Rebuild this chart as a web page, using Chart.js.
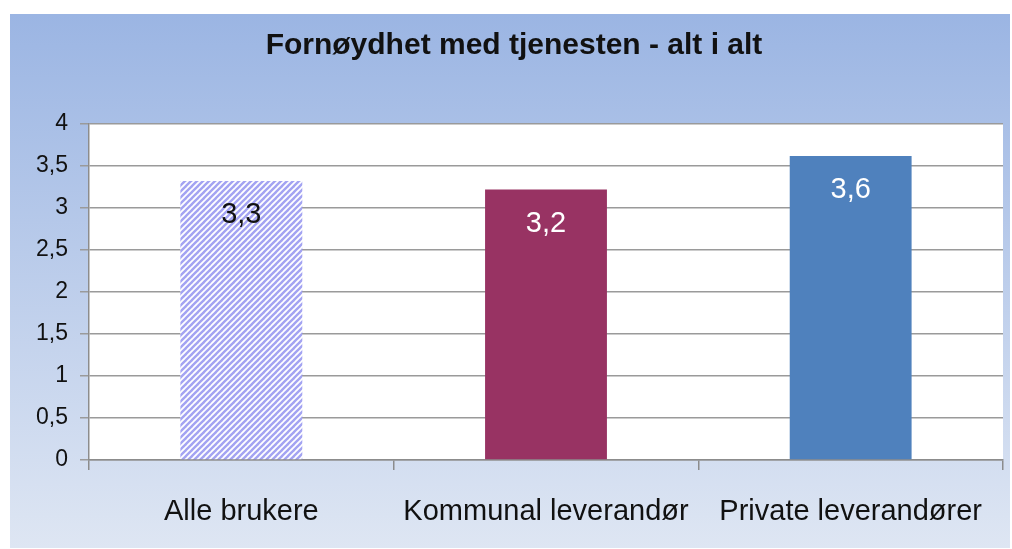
<!DOCTYPE html>
<html>
<head>
<meta charset="utf-8">
<script src="https://cdn.jsdelivr.net/npm/chart.js@4"></script>
<style>
  html, body { margin: 0; padding: 0; background: #fff; }
  #wrap { position: absolute; left: 0; top: 0; width: 1012px; height: 549px; }
</style>
</head>
<body>
<div id="wrap"><canvas id="grafico" width="1012" height="549"></canvas></div>
<script>
// Datos del gráfico
const tittel = "Fornøydhet med tjenesten - alt i alt";
const kategorier = ["Alle brukere", "Kommunal leverandør", "Private leverandører"];
const verdier = [3.32, 3.22, 3.62];
const etiketter = ["3,3", "3,2", "3,6"];
const yTicks = [0, 0.5, 1, 1.5, 2, 2.5, 3, 3.5, 4];

const fontFamily = "'Liberation Sans', Arial, sans-serif";

// Mønster med skrå striper for første søyle
function lagStriper() {
  const n = 6;
  const c = document.createElement("canvas");
  c.width = n; c.height = n;
  const g = c.getContext("2d");
  g.fillStyle = "#ffffff";
  g.fillRect(0, 0, n, n);
  g.strokeStyle = "#a3a3f2";
  g.lineWidth = 2.4;
  for (let k = -1; k <= 1; k++) {
    g.beginPath();
    g.moveTo(-1 + k * n, n + 1);
    g.lineTo(n + 1 + k * n, -1);
    g.stroke();
  }
  return g.createPattern(c, "repeat");
}

const ctx = document.getElementById("grafico").getContext("2d");
const farger = [lagStriper(), "#983363", "#4f81bd"];

// Bakgrunn, hvit plottflate og tittel
const bakgrunn = {
  id: "bakgrunn",
  beforeDraw(chart) {
    const c = chart.ctx;
    const grad = c.createLinearGradient(0, 14, 0, 548);
    grad.addColorStop(0, "#9bb5e3");
    grad.addColorStop(1, "#dee6f3");
    c.save();
    c.fillStyle = grad;
    c.fillRect(10, 14, 1000, 534);
    const a = chart.chartArea;
    c.fillStyle = "#ffffff";
    c.fillRect(a.left, a.top, a.right - a.left, a.bottom - a.top);
    c.fillStyle = "#111111";
    c.font = "bold 30px " + fontFamily;
    c.textAlign = "center";
    c.textBaseline = "middle";
    c.fillText(tittel, 514, 46);
    c.restore();
  }
};

// Verdietiketter inne i søylene
const verdiEtiketter = {
  id: "verdiEtiketter",
  afterDatasetsDraw(chart) {
    const c = chart.ctx;
    const meta = chart.getDatasetMeta(0);
    c.save();
    c.font = "29px " + fontFamily;
    c.textAlign = "center";
    c.textBaseline = "middle";
    meta.data.forEach((bar, i) => {
      c.fillStyle = i === 0 ? "#111111" : "#ffffff";
      c.fillText(etiketter[i], bar.x, bar.y + 34);
    });
    c.restore();
  }
};

new Chart(ctx, {
  type: "bar",
  data: {
    labels: kategorier,
    datasets: [{
      data: verdier,
      backgroundColor: farger,
      borderWidth: 0,
      categoryPercentage: 1,
      barPercentage: 0.4
    }]
  },
  options: {
    responsive: false,
    animation: false,
    layout: { padding: { top: 124, right: 9, left: 0, bottom: 0 } },
    plugins: {
      legend: { display: false },
      tooltip: { enabled: false }
    },
    scales: {
      x: {
        afterFit(s) { s.height = 89; },
        grid: {
          offset: true,
          drawOnChartArea: false,
          drawTicks: true,
          tickLength: 10,
          color: "#8c8c8c",
          lineWidth: 1.5
        },
        border: { color: "#8c8c8c", width: 1.5 },
        ticks: {
          padding: 25,
          color: "#111111",
          font: { family: fontFamily, size: 29 }
        }
      },
      y: {
        min: 0,
        max: 4,
        afterFit(s) { s.width = 89; },
        afterBuildTicks(s) { s.ticks = yTicks.map(v => ({ value: v })); },
        grid: {
          color: "#9a9a9a",
          lineWidth: 1.5,
          tickLength: 9
        },
        border: { color: "#8c8c8c", width: 1.5 },
        ticks: {
          padding: 12,
          color: "#111111",
          font: { family: fontFamily, size: 23 },
          callback: v => String(v).replace(".", ",")
        }
      }
    }
  },
  plugins: [bakgrunn, verdiEtiketter]
});
</script>
</body>
</html>
